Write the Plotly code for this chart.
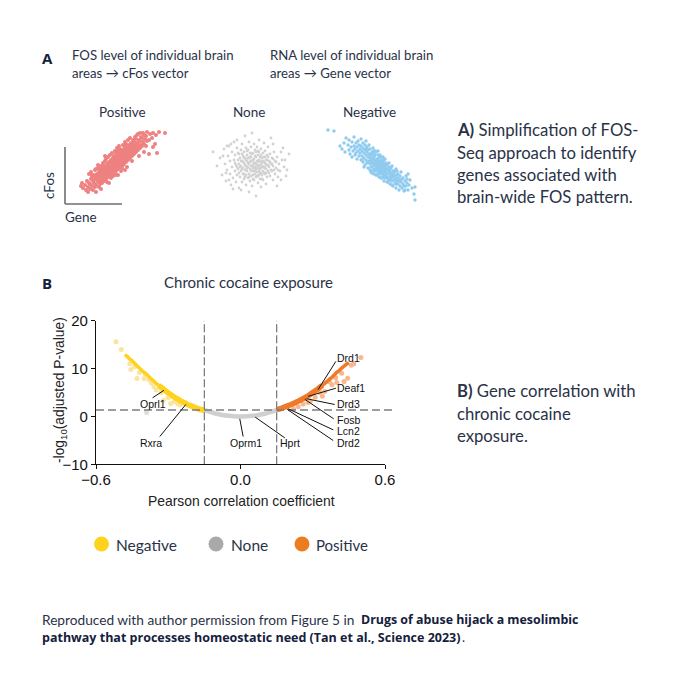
import plotly.graph_objects as go

# Panel A clouds as (gene, cFos) pairs
positive_points = [
(16,18),(18,16),(17,21),(21,14),(20,19),(22,23),(23,17),(24,21),(23,12),(25,20),(26,25),(25,15),(27,29),
(27,18),(28,23),(27,27),(26,32),(28,14),(29,21),(30,25),(29,29),(30,34),(30,17),(31,19),(32,24),(31,27),
(32,30),(31,35),(33,39),(33,22),(34,26),(33,29),(34,32),(33,36),(34,17),(35,20),(36,25),(35,28),(36,31),
(35,34),(36,38),(35,23),(37,24),(38,27),(37,30),(38,33),(37,36),(38,41),(37,21),(39,26),(40,29),(39,32),
(40,35),(39,38),(40,43),(39,23),(41,25),(42,28),(41,31),(42,34),(41,37),(42,40),(41,45),(42,22),(43,27),
(44,30),(43,33),(44,36),(43,39),(44,42),(43,47),(45,29),(46,32),(45,35),(46,38),(45,41),(46,44),(45,49),
(46,26),(47,31),(48,34),(47,37),(48,40),(47,43),(48,46),(47,51),(48,28),(49,30),(50,33),(49,36),(50,39),
(49,42),(50,45),(49,48),(50,53),(51,33),(52,36),(51,39),(52,42),(51,45),(52,48),(51,51),(52,56),(51,29),
(53,35),(54,38),(53,41),(54,44),(53,47),(54,50),(53,53),(54,58),(55,37),(56,40),(55,43),(56,46),(55,49),
(56,52),(55,55),(56,33),(57,36),(58,39),(57,42),(58,45),(57,48),(58,51),(57,54),(58,59),(59,40),(60,43),
(59,46),(60,49),(59,52),(60,55),(59,58),(60,62),(61,42),(62,45),(61,48),(62,51),(61,54),(62,57),(61,60),
(62,37),(63,44),(64,47),(63,50),(64,53),(63,56),(64,59),(63,64),(65,46),(66,49),(65,52),(66,55),(65,58),
(66,61),(65,66),(67,48),(68,51),(67,54),(68,57),(67,60),(68,64),(67,43),(69,50),(70,53),(69,56),(70,59),
(69,62),(70,67),(71,52),(72,55),(71,58),(72,61),(71,65),(72,69),(73,54),(74,57),(73,60),(74,64),(73,70),
(74,48),(75,56),(76,59),(75,63),(76,67),(75,71),(77,58),(78,62),(77,66),(78,71),(79,60),(80,65),(79,69),
(81,58),(82,63),(81,68),(82,72),(84,64),(85,70),(84,50),(87,66),(88,71),(90,60),(91,69),(94,72),(100,71),
(92,51),(88,57),(79,52),(60,34),(53,29),(44,21),(36,15),(31,12),(24,30),(40,48),
]
none_points = [
(-2,52),(2,38),(5,46),(7,29),(9,55),(10,40),(11,23),(12,34),(13,48),(14,58),(15,30),(15,43),(16,19),(17,37),
(17,52),(18,26),(19,44),(19,62),(20,33),(20,49),(21,39),(21,22),(22,56),(22,29),(23,44),(23,35),(24,50),
(24,16),(24,40),(25,27),(25,46),(26,33),(26,54),(26,38),(27,22),(27,43),(27,60),(28,30),(28,48),(28,36),
(29,41),(29,25),(29,52),(30,34),(30,46),(30,68),(31,38),(31,29),(31,56),(31,19),(32,43),(32,33),(32,49),
(33,37),(33,26),(33,54),(33,41),(34,30),(34,46),(34,62),(34,12),(35,35),(35,42),(35,51),(35,23),(36,38),
(36,28),(36,47),(36,57),(37,33),(37,43),(37,18),(37,71),(38,39),(38,29),(38,51),(38,36),(39,45),(39,24),
(39,33),(39,60),(40,41),(40,30),(40,54),(40,37),(41,47),(41,27),(41,35),(41,8),(42,43),(42,32),(42,57),
(42,39),(43,21),(43,49),(43,36),(43,28),(44,44),(44,33),(44,64),(44,52),(45,39),(45,25),(45,47),(45,31),
(46,42),(46,55),(46,36),(46,17),(47,29),(47,46),(47,38),(48,51),(48,33),(48,43),(48,24),(49,37),(49,47),
(49,61),(50,30),(50,41),(50,53),(51,35),(51,44),(51,20),(52,39),(52,27),(52,49),(53,33),(53,57),(54,43),
(54,37),(55,28),(55,50),(56,40),(56,66),(57,33),(57,46),(58,24),(58,38),(59,52),(60,30),(60,43),(61,36),
(62,47),(63,27),(64,40),(65,33),(66,52),(67,44),(69,37),(71,28),(74,50),
(8,48),(11,31),(12,58),(14,24),(16,60),(18,15),(22,64),(26,14),(58,60),(62,18),(66,24),(68,56),(70,44),(72,34),
(20,41),(22,37),(23,51),(24,31),(25,37),(26,43),(27,35),(27,50),(28,42),(29,30),(29,46),(30,39),(30,27),(31,44),
(32,36),(32,53),(33,46),(34,40),(34,27),(35,47),(36,33),(36,43),(37,38),(37,50),(38,44),(38,25),(39,41),(39,36),
(40,33),(40,48),(41,40),(41,52),(42,36),(42,28),(43,42),(43,53),(44,38),(44,29),(45,43),(45,35),(46,49),(46,31),
(47,41),(47,25),(48,37),(49,42),(49,31),(50,36),(50,47),(51,39),(51,31),(52,44),(53,39),(53,47),(54,31),(55,42),
(56,34),(57,40),(58,45),(59,34),(61,42),(63,34),
]
negative_points = [
(-2,74),(4,73),(10,58),(12,55),(14,61),(15,52),(16,66),(18,59),(19,54),(19,64),(20,50),(21,57),(22,62),(22,47),
(23,53),(24,67),(24,58),(25,49),(25,55),(26,61),(26,51),(27,45),(27,57),(28,53),(28,63),(29,48),(29,59),
(30,51),(30,55),(31,44),(31,58),(31,65),(32,48),(32,53),(33,42),(33,56),(33,61),(34,46),(34,51),(35,39),
(35,54),(35,59),(36,44),(36,49),(36,63),(37,52),(37,41),(37,57),(38,47),(38,36),(38,54),(39,43),(39,50),
(39,59),(40,40),(40,46),(40,34),(40,55),(41,43),(41,49),(41,37),(42,52),(42,41),(42,46),(42,31),(43,38),
(43,44),(43,50),(43,56),(44,35),(44,41),(44,47),(44,53),(45,39),(45,33),(45,44),(45,49),(46,36),(46,42),
(46,29),(46,52),(47,38),(47,34),(47,45),(47,41),(48,32),(48,37),(48,43),(48,49),(49,35),(49,40),(49,27),
(49,46),(50,33),(50,38),(50,43),(50,30),(51,36),(51,41),(51,26),(51,47),(52,34),(52,39),(52,30),(52,44),
(53,32),(53,37),(53,27),(53,42),(54,35),(54,29),(54,40),(54,23),(55,33),(55,38),(55,26),(55,45),(56,31),
(56,36),(56,28),(57,34),(57,22),(57,39),(58,30),(58,26),(58,35),(59,32),(59,24),(59,41),(60,28),(60,20),
(60,34),(61,26),(61,31),(62,23),(62,29),(62,38),(63,27),(63,18),(64,24),(64,31),(65,21),(65,28),(66,25),
(66,16),(66,35),(67,23),(67,29),(68,20),(68,26),(69,23),(69,14),(70,18),(70,28),(71,22),(72,25),(72,16),
(73,20),(74,13),(75,23),(76,18),(76,28),(77,21),(78,14),(79,19),(80,24),(82,16),(84,10),(85,4),(85,17),
(32,44),(34,37),(36,55),(38,42),(40,50),(41,32),(43,34),(44,30),(45,53),(47,29),(48,53),(49,31),(50,49),(51,33),
(52,26),(53,47),(54,44),(55,30),(56,41),(57,26),(58,22),(59,37),(60,24),(61,36),(62,19),(63,33),(64,28),(65,33),
(66,20),(67,33),(68,30),(70,24),(71,32),(73,26),(74,18),(75,14),(77,25),(78,30),
]

# Panel B volcano curves
neg_r = [-0.48,-0.47,-0.46,-0.45,-0.44,-0.43,-0.42,-0.41,-0.40,-0.39,-0.38,-0.37,-0.36,-0.35,-0.34,-0.33,-0.32,-0.31,-0.30,-0.29,-0.28,-0.27,-0.26,-0.25,-0.24,-0.23,-0.22,-0.21,-0.20,-0.19,-0.18,-0.17,-0.16,-0.15]
neg_p = [12.9,12.5,12.0,11.6,11.1,10.6,10.1,9.6,9.2,8.8,8.3,7.8,7.4,6.9,6.5,6.1,5.7,5.3,4.9,4.6,4.2,3.9,3.6,3.3,3.0,2.8,2.5,2.3,2.1,1.9,1.7,1.5,1.4,1.3]
none_r = [-0.15,-0.13,-0.11,-0.09,-0.07,-0.05,-0.03,-0.01,0.01,0.03,0.05,0.07,0.09,0.11,0.13,0.15]
none_p = [1.3,1.0,0.7,0.45,0.25,0.12,0.03,0.0,0.0,0.03,0.12,0.25,0.45,0.7,1.0,1.3]
pos_r = [0.15,0.16,0.17,0.18,0.19,0.20,0.21,0.22,0.23,0.24,0.25,0.26,0.27,0.28,0.29,0.30,0.31,0.32,0.33,0.34,0.35,0.36,0.37,0.38,0.39,0.40,0.41,0.42,0.43,0.44,0.45]
pos_p = [1.4,1.55,1.7,1.9,2.1,2.3,2.5,2.7,2.95,3.2,3.45,3.7,4.0,4.3,4.65,5.0,5.35,5.7,6.1,6.5,6.9,7.35,7.8,8.2,8.7,9.2,9.6,10.1,10.5,10.9,11.2]
neg_out_r = [-0.517,-0.495,-0.46,-0.455,-0.44,-0.43,-0.42,-0.40,-0.395,-0.38,-0.37,-0.36,-0.35,-0.33,-0.32,-0.30,-0.29,-0.275,-0.26,-0.25]
neg_out_p = [15.6,14.0,11.0,9.8,10.4,7.9,9.2,7.9,8.8,7.6,7.0,6.2,5.5,5.0,3.4,3.9,2.7,3.1,2.6,2.4]
none_out_r = [-0.39]
none_out_p = [0.8]
pos_out_r = [0.50,0.47,0.46,0.445,0.43,0.42,0.40,0.395,0.38,0.37,0.35,0.34,0.33,0.31,0.29,0.28,0.26,0.24,0.22]
pos_out_p = [12.3,11.0,10.7,8.0,7.3,9.0,7.1,8.1,6.6,7.2,5.2,4.2,5.0,4.0,3.2,2.9,2.6,2.0,1.6]

genes = ["Drd1","Deaf1","Drd3","Fosb","Lcn2","Drd2","Hprt","Oprm1","Rxra","Oprl1"]
gene_lx = [0.398,0.398,0.398,0.398,0.398,0.398,0.207,0.021,-0.42,-0.42]
gene_ly = [12.3,6.0,2.66,-0.7,-3.08,-5.52,-5.52,-5.52,-5.52,2.66]
gene_anchor = ["left"]*6+["center","center","left","left"]
leader_x0 = [0.322,0.281,0.274,0.267,0.198,0.194,0.061,-0.003,-0.227,-0.318]
leader_y0 = [5.6,4.2,3.7,3.57,1.6,1.47,-0.14,-0.49,2.5,5.45]
leader_x1 = [0.396,0.396,0.391,0.387,0.385,0.385,0.184,0.011,-0.335,-0.365]
leader_y1 = [11.5,5.9,2.5,-0.5,-2.8,-5.03,-4.48,-4.2,-4.2,3.9]

x_ticks = [-0.6,0.0,0.6]
x_labels = ["−0.6","0.0","0.6"]
y_ticks = [-10,0,10,20]
y_labels = ["−10","0","10","20"]

W = H = 680
TXT = "#2a3247"
FONT = "Lato"
ARIAL = "Liberation Sans"
def px(v): return v/W
def py(v): return 1-v/H

fig = go.Figure()

def cloud(points, xa, ya, color, size):
    fig.add_trace(go.Scatter(x=[p[0] for p in points], y=[p[1] for p in points], xaxis=xa, yaxis=ya,
        mode="markers", showlegend=False,
        marker=dict(color=color, size=size, line=dict(width=0))))

cloud(positive_points, "x2", "y2", "#EE8080", 4)
cloud(none_points, "x3", "y3", "#D2D2D2", 2.8)
cloud(negative_points, "x4", "y4", "#8FCBEE", 3.4)

def pts(x, y, color, size, op=1.0):
    fig.add_trace(go.Scatter(x=x, y=y, mode="markers", showlegend=False,
        marker=dict(color=color, size=size, opacity=op, line=dict(width=0))))
def band(x, y, color, width):
    fig.add_trace(go.Scatter(x=x, y=y, mode="lines", showlegend=False,
        line=dict(color=color, width=width, shape="spline")))

pts(neg_out_r, neg_out_p, "#FBE3A0", 5)
pts(pos_out_r, pos_out_p, "#F8B78C", 5)
pts(none_out_r, none_out_p, "#DDDDDD", 5)
band(none_r, none_p, "#CFCFCF", 4.5)
band(neg_r, neg_p, "#FFD21E", 3.5)
band(neg_r[14:], neg_p[14:], "#FFD21E", 5.5)
band(pos_r, pos_p, "#EF7A2A", 3.5)
band(pos_r[:20], pos_p[:20], "#EF7A2A", 5.5)

shapes = []
for xv in (-0.15, 0.15):
    shapes.append(dict(type="line", xref="x", yref="y", x0=xv, x1=xv, y0=-10, y1=20,
                       line=dict(color="#7d7d7d", width=1.3, dash="8px,3px")))
shapes.append(dict(type="line", xref="paper", yref="y", x0=px(96), x1=px(395), y0=1.34, y1=1.34,
                   line=dict(color="#7d7d7d", width=1.3, dash="8px,4px")))
for a, b, c, d in zip(leader_x0, leader_y0, leader_x1, leader_y1):
    shapes.append(dict(type="line", xref="x", yref="y", x0=a, y0=b, x1=c, y1=d,
                       line=dict(color="#111111", width=1)))
# "Gene"/"cFos" axis corner of the Positive panel
shapes.append(dict(type="line", xref="x2", yref="y2", x0=0, x1=0, y0=0, y1=57, line=dict(color="#6e6e6e", width=1.6)))
shapes.append(dict(type="line", xref="x2", yref="y2", x0=0, x1=57, y0=0, y1=0, line=dict(color="#6e6e6e", width=1.6)))
# legend dots
for cx, col in ((101.5, "#FFD21E"), (216, "#A9A9A9"), (302, "#EB7D1E")):
    shapes.append(dict(type="circle", xref="paper", yref="paper", x0=px(cx-7.5), x1=px(cx+7.5),
                       y0=py(544+7.5), y1=py(544-7.5), fillcolor=col, line=dict(width=0)))

ann = []
def T(x, y, s, size=13, color=TXT, font=FONT, anchor="left", angle=0):
    ann.append(dict(xref="paper", yref="paper", x=px(x), y=py(y), text=s, showarrow=False,
                    xanchor=anchor, yanchor="middle", textangle=angle, align="left", borderpad=0,
                    font=dict(family=font, size=size, color=color)))

T(41, 58, "<b>A</b>", 15, "#14203c", font="Open Sans")
T(41, 283, "<b>B</b>", 15, "#14203c", font="Open Sans")
T(71, 55, "FOS level of individual brain", 13.2)
T(71, 73, "areas → cFos vector", 13.2)
T(269, 55, "RNA level of individual brain", 13.2)
T(269, 73, "areas → Gene vector", 13.2)
T(122, 112, "Positive", 13.5, anchor="center")
T(249, 112, "None", 13.5, anchor="center")
T(369, 112, "Negative", 13.5, anchor="center")
T(64, 217, "Gene", 13.5)
T(49, 185, "cFos", 13.5, anchor="center", angle=-90)
T(163, 282, "Chronic cocaine exposure", 15)
T(456, 130, "<b>A)</b> Simplification of FOS-", 16.7)
T(456, 153, "Seq approach to identify", 16.7)
T(456, 175, "genes associated with", 16.7)
T(456, 197, "brain-wide FOS pattern.", 16.7)
T(456, 391, "<b>B)</b> Gene correlation with", 16.7)
T(456, 414, "chronic cocaine", 16.7)
T(456, 436, "exposure.", 16.7)
T(115, 545, "Negative", 15.5)
T(230, 545, "None", 15.5)
T(315, 545, "Positive", 15)
T(41, 619, "Reproduced with author permission from Figure 5 in", 13.7)
T(360, 619, "<b>Drugs of abuse hijack a mesolimbic</b>", 12.4, "#14203c", font="Open Sans")
T(41, 637, "<b>pathway that processes homeostatic need (Tan et al., Science 2023)</b>", 12.5, "#14203c", font="Open Sans")
T(461, 637, ".", 13)
T(241, 501, "Pearson correlation coefficient", 13.9, "#222222", ARIAL, anchor="center")
T(60, 390, "-log<sub>10</sub>(adjusted P-value)", 13.8, "#222222", ARIAL, anchor="center", angle=-90)

for g, x, y, a in zip(genes, gene_lx, gene_ly, gene_anchor):
    ann.append(dict(xref="x", yref="y", x=x, y=y, text=g, showarrow=False, xanchor=a, yanchor="middle",
                    borderpad=0, font=dict(family=ARIAL, size=10.5, color="#111111")))

def hidden_x(left, anchor):
    return dict(domain=[px(left-5), px(left+105)], range=[-5, 105], anchor=anchor, visible=False)
def hidden_y(anchor):
    return dict(domain=[py(206), py(126)], range=[-2, 78], anchor=anchor, visible=False)

fig.update_layout(
    width=W, height=H, margin=dict(l=0, r=0, t=0, b=0), autosize=False,
    paper_bgcolor="white", plot_bgcolor="rgba(0,0,0,0)", showlegend=False,
    shapes=shapes, annotations=ann,
    xaxis=dict(domain=[px(96), px(385)], range=[-0.6, 0.6], tickvals=x_ticks, ticktext=x_labels,
               automargin=False, showgrid=False, zeroline=False, showline=True, linecolor="#111", linewidth=1.2,
               ticks="outside", ticklen=4, tickwidth=1.2, tickcolor="#111", ticklabelstandoff=-2,
               tickfont=dict(family=ARIAL, size=15, color="#111"), anchor="y"),
    yaxis=dict(domain=[py(464.3), py(320.7)], range=[-10, 20], tickvals=y_ticks, ticktext=y_labels,
               automargin=False, showgrid=False, zeroline=False, showline=True, linecolor="#111", linewidth=1.2,
               ticks="outside", ticklen=4, tickwidth=1.2, tickcolor="#111",
               tickfont=dict(family=ARIAL, size=15, color="#111"), anchor="x"),
    xaxis2=hidden_x(65, "y2"), yaxis2=hidden_y("x2"),
    xaxis3=hidden_x(215, "y3"), yaxis3=hidden_y("x3"),
    xaxis4=hidden_x(330, "y4"), yaxis4=hidden_y("x4"),
)
fig.write_html("out.html", config={"displayModeBar": False},
               post_script="document.body.style.margin='0';document.body.style.overflow='hidden';")
